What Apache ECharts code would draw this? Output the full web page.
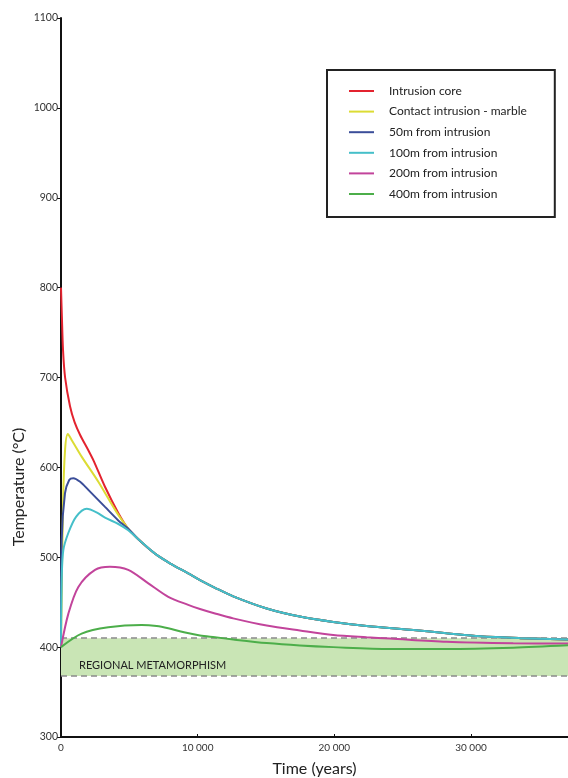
<!DOCTYPE html>
<html>
<head>
<meta charset="utf-8">
<script src="https://cdn.jsdelivr.net/npm/echarts@6/dist/echarts.min.js"></script>
<style>
  html, body { margin: 0; padding: 0; background: #fff; }
  #chart { width: 568px; height: 778px; }
</style>
</head>
<body>
<div id="chart"></div>
<script>
// [time (years), temperature (°C)]
const sharedTail = [[5660, 520], [6880, 504], [8000, 493], [9310, 482], [10170, 474.5], [11270, 466], [12600, 456.5],
  [15050, 443], [17480, 434], [19920, 428], [22360, 423.5], [25770, 419], [28210, 415.5], [30650, 412],
  [33580, 410], [37100, 408.5]];

const intrusionCore = [[0, 800], [60, 770], [150, 730], [300, 700], [660, 668], [1000, 650], [1400, 636],
  [2000, 619], [2400, 607], [3200, 579], [4200, 549], [4900, 532]].concat(sharedTail);
const contactMarble = [[0, 400], [150, 560], [300, 620], [500, 637], [800, 630], [1510, 612], [2730, 584],
  [3950, 553], [4900, 532]].concat(sharedTail);
const m50 = [[0, 400], [50, 519], [290, 571], [600, 586], [900, 588], [1400, 584], [2000, 575], [3220, 556],
  [4190, 541], [4900, 532]].concat(sharedTail);
const m100 = [[0, 400], [60, 480], [170, 508], [535, 527], [1100, 545], [1880, 554], [2600, 550], [3220, 544],
  [4200, 537], [4920, 530]].concat(sharedTail);
const m200 = [[0, 400], [535, 437], [1270, 467], [2490, 486], [3580, 489.5], [4920, 486], [6390, 471],
  [7850, 456], [9310, 447], [10170, 442.5], [11270, 437.5], [12600, 432], [15050, 424], [17480, 418.5],
  [19920, 413.5], [22360, 411], [24070, 409.6], [28210, 406], [33090, 404.3], [37100, 404]];
const m400 = [[0, 400], [1510, 415], [3460, 422], [5900, 424.6], [7000, 423.5], [7850, 421], [9000, 416.5],
  [10170, 413], [11270, 411], [12600, 408.5], [15050, 404.5], [17480, 401.8], [19920, 400], [24070, 398],
  [28210, 398], [33090, 399.4], [37100, 402]];

const seriesNames = ['Intrusion core', 'Contact intrusion - marble', '50m from intrusion',
  '100m from intrusion', '200m from intrusion', '400m from intrusion'];
const seriesColors = ['#e3232f', '#dcdc34', '#3b4e99', '#45bfc9', '#c2449b', '#4cae4a'];
const seriesData = [intrusionCore, contactMarble, m50, m100, m200, m400];

const bandLow = 368;
const bandHigh = 410;
const yTicks = [300, 1100, 100]; // min, max, step
const xTicks = [0, 37100, 10000];

const fontFamily = 'Lato, "Open Sans", sans-serif';

var myChart = echarts.init(document.getElementById('chart'));

var series = [{
  // regional metamorphism band
  name: 'band',
  type: 'line',
  data: [],
  z: 1,
  silent: true,
  markArea: {
    silent: true,
    itemStyle: { color: '#c9e5b5' },
    label: {
      show: true,
      position: 'insideLeft',
      offset: [13, 8],
      color: '#222',
      fontSize: 11,
      fontFamily: fontFamily
    },
    data: [[{ yAxis: bandLow, name: 'REGIONAL METAMORPHISM' }, { yAxis: bandHigh }]]
  },
  markLine: {
    silent: true,
    symbol: 'none',
    label: { show: false },
    lineStyle: { color: '#8a8a8a', type: [6, 4], width: 1.5 },
    data: [{ yAxis: bandLow }, { yAxis: bandHigh }]
  }
}];

seriesData.forEach(function (d, i) {
  series.push({
    name: seriesNames[i],
    type: 'line',
    data: d,
    z: 2 + i,
    smooth: 0.3,
    symbol: 'none',
    lineStyle: { color: seriesColors[i], width: 2 },
    itemStyle: { color: seriesColors[i] }
  });
});

myChart.setOption({
  animation: false,
  backgroundColor: '#fff',
  grid: { left: 61, right: 0, top: 18, bottom: 41, containLabel: false, outerBoundsMode: 'none' },
  legend: {
    data: seriesNames,
    orient: 'vertical',
    left: 327,
    top: 70,
    padding: [15, 28, 17, 22],
    itemGap: 8.6,
    itemWidth: 25,
    itemHeight: 2,
    icon: 'rect',
    borderColor: '#222',
    borderWidth: 2,
    backgroundColor: '#fff',
    textStyle: { fontSize: 12, color: '#222', fontFamily: fontFamily, padding: [0, 0, 0, 10] }
  },
  xAxis: {
    type: 'value',
    min: xTicks[0],
    max: xTicks[1],
    interval: xTicks[2],
    name: 'Time (years)',
    nameLocation: 'middle',
    nameGap: 24,
    nameTextStyle: { fontSize: 16, color: '#222', fontFamily: fontFamily },
    axisLine: { lineStyle: { color: '#111', width: 2 } },
    axisTick: { inside: true, length: 3, lineStyle: { color: '#111' } },
    splitLine: { show: false },
    axisLabel: {
      fontSize: 10,
      color: '#333',
      margin: 6,
      fontFamily: fontFamily,
      showMaxLabel: false,
      formatter: function (v) {
        if (v % 10000 !== 0) return '';
        return v === 0 ? '0' : String(v / 1000) + ' 000';
      }
    }
  },
  yAxis: {
    type: 'value',
    min: yTicks[0],
    max: yTicks[1],
    interval: yTicks[2],
    axisLine: { show: true, lineStyle: { color: '#111', width: 2 } },
    axisTick: { show: true, length: 4, lineStyle: { color: '#111' } },
    splitLine: { show: false },
    axisLabel: {
      fontSize: 10.5, color: '#333', margin: 3, fontFamily: fontFamily,
      formatter: function (v) { return String(v); }
    }
  },
  graphic: [{
    type: 'text',
    x: 19,
    y: 487,
    rotation: Math.PI / 2,
    style: {
      text: 'Temperature (°C)',
      fontSize: 16,
      fill: '#222',
      fontFamily: fontFamily,
      align: 'center',
      verticalAlign: 'middle'
    }
  }],
  series: series
});
</script>
</body>
</html>
